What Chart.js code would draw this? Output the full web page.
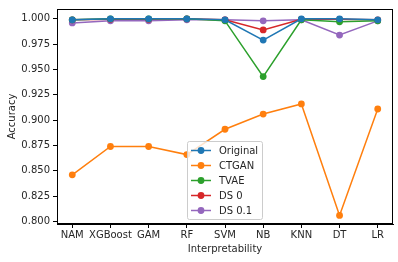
<!DOCTYPE html>
<html>
<head>
<meta charset="utf-8">
<script src="https://cdn.jsdelivr.net/npm/chart.js@4/dist/chart.umd.min.js"></script>
<style>
  html, body { margin: 0; padding: 0; background: #fff; }
  #wrap { width: 398px; height: 262px; }
</style>
</head>
<body>
<div id="wrap"><canvas id="myChart" width="398" height="262"></canvas></div>
<script>
// categories and series
const models = ['NAM', 'XGBoost', 'GAM', 'RF', 'SVM', 'NB', 'KNN', 'DT', 'LR'];
const original = [0.999, 1.000, 1.000, 1.000, 0.999, 0.979, 1.000, 1.000, 0.999];
const ctgan = [0.846, 0.874, 0.874, 0.866, 0.891, 0.906, 0.916, 0.806, 0.911];
const tvae = [0.999, 1.000, 1.000, 1.000, 0.998, 0.943, 0.999, 0.997, 0.998];
const ds0 = [0.999, 0.9995, 0.9995, 1.000, 0.999, 0.989, 0.9995, 0.9995, 0.999];
const ds01 = [0.996, 0.998, 0.998, 0.999, 0.999, 0.998, 0.999, 0.984, 0.998];
const yTicks = [0.800, 0.825, 0.850, 0.875, 0.900, 0.925, 0.950, 0.975, 1.000];

const seriesNames = ['Original', 'CTGAN', 'TVAE', 'DS 0', 'DS 0.1'];
const seriesData = [original, ctgan, tvae, ds0, ds01];
const colors = ['#1f77b4', '#ff7f0e', '#2ca02c', '#d62728', '#9467bd'];

const FONT = 'DejaVu Sans';

function toPoints(arr) {
    return arr.map((v, i) => ({ x: i, y: v }));
}

const datasets = seriesNames.map((name, k) => ({
    label: name,
    data: toPoints(seriesData[k]),
    borderColor: colors[k],
    backgroundColor: colors[k],
    pointBackgroundColor: colors[k],
    pointBorderColor: colors[k],
    pointRadius: 3.4,
    pointBorderWidth: 0,
    borderWidth: 1.5,
    tension: 0
}));

// box around plot area + legend inside (matplotlib look)
const framePlugin = {
    id: 'frame',
    afterDatasetsDraw(chart) {
        const ctx = chart.ctx;
        const a = chart.chartArea;
        ctx.save();
        ctx.strokeStyle = '#000';
        ctx.lineWidth = 1;
        ctx.strokeRect(Math.round(a.left) + 0.5, Math.round(a.top) + 0.5,
            Math.round(a.right - a.left) - 1, Math.round(a.bottom - a.top) - 1);

        // legend
        const lx = 187, ly = 141, lw = 75, lh = 78;
        ctx.globalAlpha = 0.8;
        ctx.fillStyle = '#fff';
        ctx.beginPath();
        ctx.roundRect(lx + 0.5, ly + 0.5, lw, lh, 2);
        ctx.fill();
        ctx.globalAlpha = 1;
        ctx.strokeStyle = '#cccccc';
        ctx.stroke();
        ctx.font = '10px "' + FONT + '"';
        ctx.textBaseline = 'middle';
        seriesNames.forEach((name, k) => {
            const y = ly + 9.5 + k * 15;
            ctx.strokeStyle = colors[k];
            ctx.lineWidth = 1.5;
            ctx.beginPath();
            ctx.moveTo(lx + 4, y);
            ctx.lineTo(lx + 24, y);
            ctx.stroke();
            ctx.fillStyle = colors[k];
            ctx.beginPath();
            ctx.arc(lx + 14, y, 3.4, 0, Math.PI * 2);
            ctx.fill();
            ctx.fillStyle = '#262626';
            ctx.fillText(name, lx + 32, y + 0.5);
        });
        ctx.restore();
    }
};

const ctx = document.getElementById('myChart').getContext('2d');
const myChart = new Chart(ctx, {
    type: 'line',
    data: { datasets: datasets },
    plugins: [framePlugin],
    options: {
        responsive: false,
        animation: false,
        layout: { padding: { left: 0, top: 6, right: 5, bottom: 0 } },
        plugins: {
            legend: { display: false },
            tooltip: { enabled: false }
        },
        scales: {
            x: {
                type: 'linear',
                min: -0.4,
                max: 8.4,
                afterBuildTicks(scale) {
                    scale.ticks = models.map((m, i) => ({ value: i }));
                },
                afterFit(scale) { scale.height = 38; },
                ticks: {
                    autoSkip: false,
                    maxRotation: 0,
                    padding: 1,
                    color: '#262626',
                    font: { family: FONT, size: 10 },
                    callback: (v) => models[v]
                },
                grid: { drawOnChartArea: false, drawTicks: true, tickLength: 4, color: '#000' },
                border: { display: true, color: '#000' },
                title: {
                    display: true,
                    text: 'Interpretability',
                    color: '#262626',
                    padding: { top: 0, bottom: 7 },
                    font: { family: FONT, size: 10 }
                }
            },
            y: {
                min: 0.7975,
                max: 1.0097,
                afterBuildTicks(scale) {
                    scale.ticks = yTicks.map(v => ({ value: v }));
                },
                afterFit(scale) { scale.width = 57; },
                ticks: {
                    padding: 3,
                    color: '#262626',
                    font: { family: FONT, size: 10 },
                    callback: (v) => Number(v).toFixed(3)
                },
                grid: { drawOnChartArea: false, drawTicks: true, tickLength: 4, color: '#000' },
                border: { display: true, color: '#000' },
                title: {
                    display: true,
                    text: 'Accuracy',
                    color: '#262626',
                    padding: { top: 6, bottom: 2 },
                    font: { family: FONT, size: 10 }
                }
            }
        }
    }
});
</script>
</body>
</html>
